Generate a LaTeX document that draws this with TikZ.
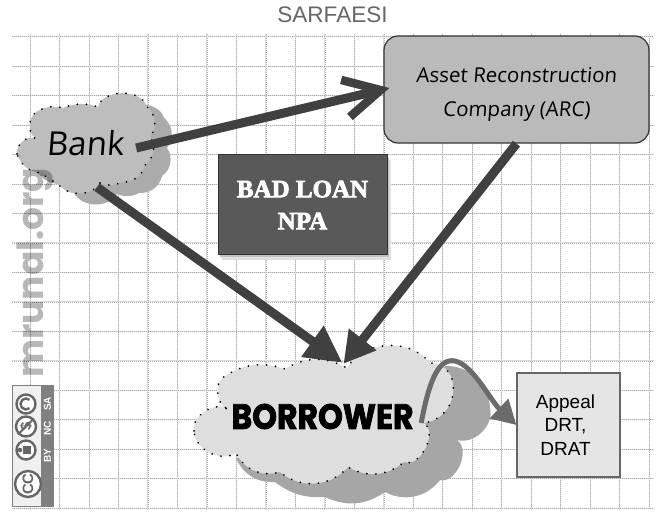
\documentclass[tikz,border=0pt]{standalone}
\usepackage{fontspec}
\usetikzlibrary{arrows.meta,calc}
\setmainfont{Liberation Sans}
\newfontfamily\hand[FakeSlant=0.08]{Open Sans}
\newfontfamily\heavy[BoldFeatures={FakeBold=2.5}]{Poppins}
\newfontfamily\slab[BoldFeatures={FakeBold=3}]{Liberation Serif}
\newfontfamily\wm{Poppins}
\definecolor{arrowdark}{HTML}{404040}
\tikzset{
 gridline/.style={draw=black!14,line width=.9pt},
 griddots/.style={draw=black!32,line width=.5pt,dash pattern=on .8pt off 1.2pt},
 cloudedge/.style={draw=black,line width=1.9pt,line cap=round,dash pattern=on .1pt off 9pt},
 heavyarrow/.style={draw=arrowdark,line width=9pt,-{Triangle[length=37pt,width=36pt]}},
 icon/.style={circle,draw=black!60,fill=white,line width=2.4pt,inner sep=0pt},
 strip/.style={text=white,font=\bfseries\fontsize{10}{10}\selectfont,rotate=90,inner sep=0pt},
 lobe/.style={bend left=#1},
}
\def\bankshape{(17,154) to[lobe=55] (35,138) to[lobe=65] (40,110) to[lobe=20] (63,108) to[lobe=20] (98,107) to[lobe=75] (147,107) to[lobe=45] (150,137) to[lobe=45] (145,165) to[lobe=40] (122,182) to[lobe=25] (100,183) to[lobe=60] (57,182) to[lobe=25] (43,173) to[lobe=35] (17,154) -- cycle}
\def\borrowershape{(194,431) to[lobe=70] (230,410) to[lobe=75] (225,376) to[lobe=25] (285,369) to[lobe=30] (347,368) to[lobe=55] (430,363) to[lobe=45] (453,385) to[lobe=45] (424,423) to[lobe=85] (404,462) to[lobe=35] (348,467) to[lobe=45] (280,472) to[lobe=40] (236,453) to[lobe=60] (194,431) -- cycle}
\begin{document}
\begin{tikzpicture}[x=1pt,y=-1pt]
\useasboundingbox (0,0) rectangle (657,513);
\fill[white] (0,0) rectangle (657,513);
% grid
\foreach \i in {0,...,21}{
  \draw[gridline] ({30+29.48*\i},34) -- ({30+29.48*\i},510);
  \draw[griddots] ({30+29.48*\i},34) -- ({30+29.48*\i},510);}
\foreach \i in {0,...,16}{
  \draw[gridline] (12,{36.7+29.46*\i}) -- (654,{36.7+29.46*\i});
  \draw[griddots] (12,{36.7+29.46*\i}) -- (654,{36.7+29.46*\i});}
\node[text=black!60,font=\fontsize{22.5}{24}\selectfont] (title) at (332.5,14.5) {SARFAESI};
% bank cloud
\begin{scope}[shift={(17,11)}]
\fill[black!33] \bankshape;
\end{scope}
\fill[black!26] \bankshape;
\path[cloudedge] \bankshape;
\node[minimum width=136pt,minimum height=97pt,inner sep=0pt,font=\hand\fontsize{33}{36}\selectfont] (bank) at (85,143.5) {Bank};
% ARC
\node[draw=black!80,fill=black!27,line width=1.2pt,rounded corners=14pt,minimum width=265pt,minimum height=107pt,inner sep=0pt,align=center,font=\hand\fontsize{20.5}{34}\selectfont] (arc) at (516.5,89.5) {\rule{0pt}{24pt}Asset Reconstruction\\Company (ARC)};
% NPA
\fill[black!12] (222,160) rectangle (391,260);
\fill[black!25] (220,158) rectangle (389,257);
\node[draw=black!80,fill=black!65,line width=1pt,minimum width=169pt,minimum height=100pt,inner sep=0pt,align=center,text=white,font=\slab\bfseries\fontsize{25}{32}\selectfont] (npa) at (302.5,205) {BAD LOAN\\NPA};
% borrower cloud
\fill[black!35] (236,458) to[bend right=35] (275,482) to[bend right=20] (325,497) to[bend right=30] (385,492) to[bend right=40] (440,480) to[bend right=80] (457,440) to[bend right=60] (490,408) to[bend right=45] (445,366) -- (400,420) -- cycle;
\fill[black!13] \borrowershape;
\path[cloudedge] \borrowershape;
\node[minimum width=259pt,minimum height=137pt,inner sep=0pt,font=\heavy\bfseries\fontsize{35}{36}\selectfont] (borrower) at (322.5,416.5) {\scalebox{.9}[1]{BORROWER}};
% appeal
\node[draw=black!60,fill=black!10,line width=1.2pt,minimum width=103pt,minimum height=104pt,inner sep=0pt,font=\fontsize{19}{23.7}\selectfont] (appeal) at (568.5,425) {\hspace*{-6pt}\begin{tabular}{@{}c@{}}\rule{0pt}{21pt}Appeal\\DRT,\\DRAT\end{tabular}};
% connectors
\draw[draw=arrowdark,line width=9pt,-{Straight Barb[length=36pt,width=38pt,line width=8.5pt]}] ($(bank.east)+(-17,4.5)$) -- ($(arc.west)+(6,-1.5)$);
\draw[heavyarrow] ($(bank.south)+(12,-5)$) -- ($(borrower.north)+(20,15)$);
\draw[heavyarrow,-{Triangle[length=31pt,width=33pt]}] (arc.south) -- ($(borrower.north)+(21,16)$);
\draw[draw=black!58,line width=5pt,-{Triangle[length=24pt,width=26pt]}] ($(borrower.east)+(-31,6.5)$) .. controls (430,376) and (440,358) .. (455,361) .. controls (473,365) and (490,400) .. (appeal.west);
% watermark
\node[rotate=90,anchor=base west,inner sep=0pt,text=black,opacity=.28,font=\wm\bfseries\fontsize{36}{36}\selectfont] (mark) at (43,378) {mrunal.org};
% licence badge
\node[draw=black!50,fill=black!6,line width=.8pt,minimum width=41pt,minimum height=121pt,inner sep=0pt] (badge) at (32.5,445.5) {};
\fill[black!50] (41,385) rectangle (53,506);
\node[strip] (sa) at (47.5,404) {SA};
\node[strip] (nc) at (47.5,428) {NC};
\node[strip] (by) at (47.5,456) {BY};
\node[icon,minimum size=19pt] (iconsa) at (26,404) {};
\draw[black!60,line width=2.4pt] (26,404) ++(50:5.5) arc[start angle=50,end angle=310,radius=5.5];
\node[icon,minimum size=20pt] (iconnc) at (26,426.5) {};
\node[rotate=90,text=black!60,font=\bfseries\fontsize{15}{15}\selectfont,inner sep=0pt] (dollar) at (26,426.5) {\$};
\draw[black!60,line width=1.8pt] (iconnc.north east) -- (iconnc.south west);
\node[icon,minimum size=19pt] (iconby) at (26,450) {};
\fill[black!60] (20,450) circle[radius=2.3];
\fill[black!60] (23,446) rectangle (31,454);
\node[icon,minimum size=26pt] (iconcc) at (28,484) {};
\node[rotate=90,text=black!60,font=\bfseries\fontsize{15}{15}\selectfont,inner sep=0pt] (cc) at (28,484) {CC};
\end{tikzpicture}
\end{document}
